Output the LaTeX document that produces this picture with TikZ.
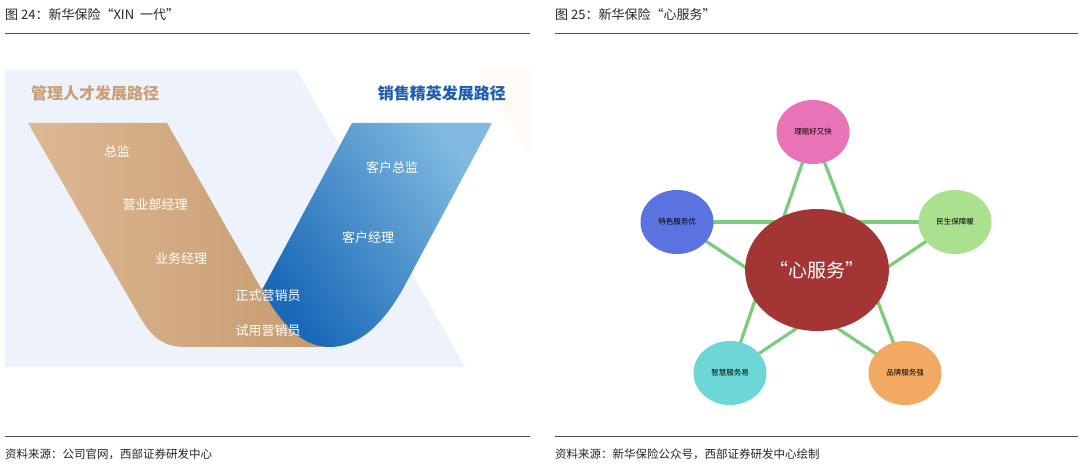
\documentclass[tikz,border=0pt]{standalone}
\usepackage{fontspec}
\usetikzlibrary{shapes.geometric}
\setmainfont{Noto Sans CJK SC}
\begin{document}
\begin{tikzpicture}[x=1pt,y=-1pt,
  hdr/.style={anchor=west,font=\fontsize{13}{13}\selectfont,text=black!85,inner sep=0},
  src/.style={anchor=west,font=\fontsize{11.5}{12}\selectfont,text=black!85,inner sep=0},
  lab/.style={text=white,font=\fontsize{13}{13}\selectfont,inner sep=0},
  sat/.style={ellipse,minimum width=73pt,minimum height=64pt,inner sep=0,font=\fontsize{7.5}{7.5}\selectfont},
  star/.style={draw=starg,line width=3.2pt}]
\definecolor{bgl}{HTML}{EEF2FA}
\definecolor{brl}{HTML}{DDB892}
\definecolor{brd}{HTML}{C69A6E}
\definecolor{bld}{HTML}{1A68B8}
\definecolor{bll}{HTML}{80BAE0}
\definecolor{brt}{HTML}{C9A07A}
\definecolor{blt}{HTML}{1F5EAE}
\definecolor{starg}{HTML}{7DCB7D}
\useasboundingbox (0,0) rectangle (1080,470);
\fill[white] (0,0) rectangle (1080,470);
% headers
\node[hdr] (h1) at (5,15) {图 24：新华保险“XIN\ \ 一代”};
\node[hdr] (h2) at (555,15) {图 25：新华保险“心服务”};
\draw[black!70,line width=0.8pt] (5,33) -- (530,33);
\draw[black!70,line width=0.8pt] (555,33) -- (1078,33);
\draw[black!70,line width=0.8pt] (5,436) -- (530,436);
\draw[black!70,line width=0.8pt] (555,436) -- (1078,436);
\node[src] (s1) at (5,454) {资料来源：公司官网，西部证券研发中心};
\node[src] (s2) at (555,454) {资料来源：新华保险公众号，西部证券研发中心绘制};
% left panel
\fill[bgl] (5,70) -- (297,70) -- (465,367) -- (5,367) -- cycle;
\fill[orange!4] (478,70) -- (530,70) -- (530,155) -- cycle;
\shade[left color=brl,right color=brd] (28,123) -- (167,123) -- (262,290) -- (330,347) -- (187,347) .. controls (162,347) and (152,337) .. (140,317) -- cycle;
\shade[left color=bll,right color=bld,shading angle=-55] (352,123) -- (492,123) -- (405,285) .. controls (385,322) and (360,347) .. (330,347) .. controls (305,347) and (285,330) .. (262,290) -- cycle;
\node[text=brt,font=\bfseries\fontsize{16}{16}\selectfont,anchor=west,inner sep=0] (t1) at (31,93) {管理人才发展路径};
\node[text=blt,font=\bfseries\fontsize{16}{16}\selectfont,anchor=east,inner sep=0] (t2) at (506,93) {销售精英发展路径};
\node[lab] (a1) at (117,151) {总监};
\node[lab] (a2) at (155,205) {营业部经理};
\node[lab] (a3) at (181,259) {业务经理};
\node[lab] (a4) at (268,296) {正式营销员};
\node[lab] (a5) at (268,331) {试用营销员};
\node[lab] (b1) at (392,168) {客户总监};
\node[lab] (b2) at (368,238) {客户经理};
% right panel
\coordinate (pt) at (813,132);
\coordinate (pl) at (677,222);
\coordinate (pr) at (955,222);
\coordinate (pbl) at (730,373);
\coordinate (pbr) at (905,373);
\draw[star] (pt) -- (pbl);
\draw[star] (pt) -- (pbr);
\draw[star] (pl) -- (pr);
\draw[star] (pl) -- (pbr);
\draw[star] (pr) -- (pbl);
\node[ellipse,fill={rgb,255:red,163;green,53;blue,53},minimum width=138pt,minimum height=122pt,text=white,font=\fontsize{19}{19}\selectfont] (c) at (817,270) {“心服务”};
\node[sat,fill={rgb,255:red,232;green,116;blue,181}] (n1) at (pt) {理赔好又快};
\node[sat,fill={rgb,255:red,91;green,115;blue,224}] (n2) at (pl) {特色服务优};
\node[sat,fill={rgb,255:red,171;green,224;blue,142}] (n3) at (pr) {民生保障暖};
\node[sat,fill={rgb,255:red,109;green,214;blue,214}] (n4) at (pbl) {智慧服务易};
\node[sat,fill={rgb,255:red,242;green,169;blue,98}] (n5) at (pbr) {品牌服务强};
\end{tikzpicture}
\end{document}
